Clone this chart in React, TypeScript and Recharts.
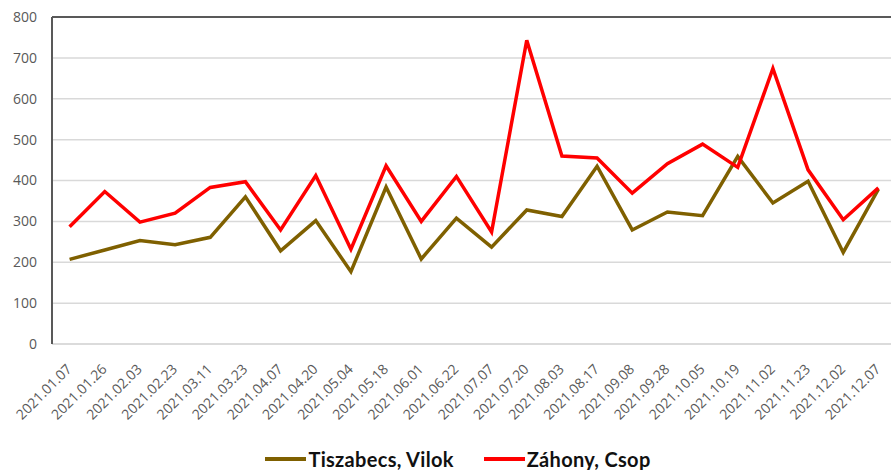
import React from "react";
import {
  LineChart,
  Line,
  XAxis,
  YAxis,
  CartesianGrid,
  ReferenceLine,
  Legend,
} from "recharts";

const dates = [
  "2021.01.07", "2021.01.26", "2021.02.03", "2021.02.23", "2021.03.11", "2021.03.23",
  "2021.04.07", "2021.04.20", "2021.05.04", "2021.05.18", "2021.06.01", "2021.06.22",
  "2021.07.07", "2021.07.20", "2021.08.03", "2021.08.17", "2021.09.08", "2021.09.28",
  "2021.10.05", "2021.10.19", "2021.11.02", "2021.11.23", "2021.12.02", "2021.12.07",
];

const tiszabecs = [
  207, 230, 253, 243, 261, 360, 228, 302, 177, 384, 208, 308,
  237, 328, 312, 435, 279, 323, 314, 459, 345, 398, 224, 379,
];

const zahony = [
  287, 373, 298, 320, 383, 397, 279, 412, 232, 436, 300, 410,
  274, 743, 460, 455, 369, 441, 489, 432, 674, 426, 304, 382,
];

const yTicks = [0, 100, 200, 300, 400, 500, 600, 700, 800];

const seriesNames = ["Tiszabecs, Vilok", "Záhony, Csop"];
const seriesColors = ["#7F6000", "#FF0000"];

const data = dates.map((d, i) => ({
  date: d,
  tiszabecs: tiszabecs[i],
  zahony: zahony[i],
}));

const FONT = "'Open Sans', 'Noto Sans', sans-serif";

const DateTick = ({ x, y, payload }: any) => {
  const ax = x + 3;
  const ay = y + 24;
  return (
    <text
      x={ax}
      y={ay}
      transform={`rotate(-45, ${ax}, ${ay})`}
      textAnchor="end"
      fontSize={14}
      fontFamily={FONT}
      fill="#595959"
    >
      {payload.value}
    </text>
  );
};

const LegendBox = () => (
  <div
    style={{
      display: "flex",
      justifyContent: "center",
      gap: 30,
      paddingTop: 8,
      paddingLeft: 20,
      height: 22,
      lineHeight: "22px",
      fontFamily: "Lato, sans-serif",
      fontWeight: 700,
      fontSize: 20,
      letterSpacing: 0.3,
      color: "#111",
    }}
  >
    {seriesNames.map((name, i) => (
      <div key={name} style={{ display: "flex", alignItems: "center" }}>
        <div
          style={{
            width: 41,
            height: 4,
            background: seriesColors[i],
            marginRight: 2,
          }}
        />
        <span>{name}</span>
      </div>
    ))}
  </div>
);

export default function App() {
  return (
    <div
      style={{
        position: "absolute",
        left: 0,
        top: 0,
        width: 891,
        height: 470,
        overflow: "hidden",
        background: "#fff",
      }}
    >
      <LineChart
        width={900}
        height={470}
        data={data}
        margin={{ top: 17, right: 4, left: 0, bottom: 0 }}
      >
        <CartesianGrid vertical={false} stroke="#d9d9d9" strokeWidth={1.5} />
        <XAxis
          dataKey="date"
          interval={0}
          height={96}
          padding={{ left: 17.6, right: 17.6 }}
          tickLine={false}
          tickSize={0}
          axisLine={{ stroke: "#d9d9d9", strokeWidth: 1.5 }}
          tick={<DateTick />}
        />
        <YAxis
          width={52}
          domain={[0, 800]}
          ticks={yTicks}
          tickLine={false}
          tickSize={6}
          tickMargin={9}
          axisLine={{ stroke: "#595959", strokeWidth: 2 }}
          tick={{ fontSize: 14, fontFamily: FONT, fill: "#595959" }}
        />
        <ReferenceLine y={800} stroke="#595959" strokeWidth={2} />
        <Line
          dataKey="tiszabecs"
          name={seriesNames[0]}
          stroke={seriesColors[0]}
          strokeWidth={3.5}
          dot={false}
          isAnimationActive={false}
        />
        <Line
          dataKey="zahony"
          name={seriesNames[1]}
          stroke={seriesColors[1]}
          strokeWidth={3.5}
          dot={false}
          isAnimationActive={false}
        />
        <Legend verticalAlign="bottom" height={30} content={<LegendBox />} />
      </LineChart>
    </div>
  );
}
